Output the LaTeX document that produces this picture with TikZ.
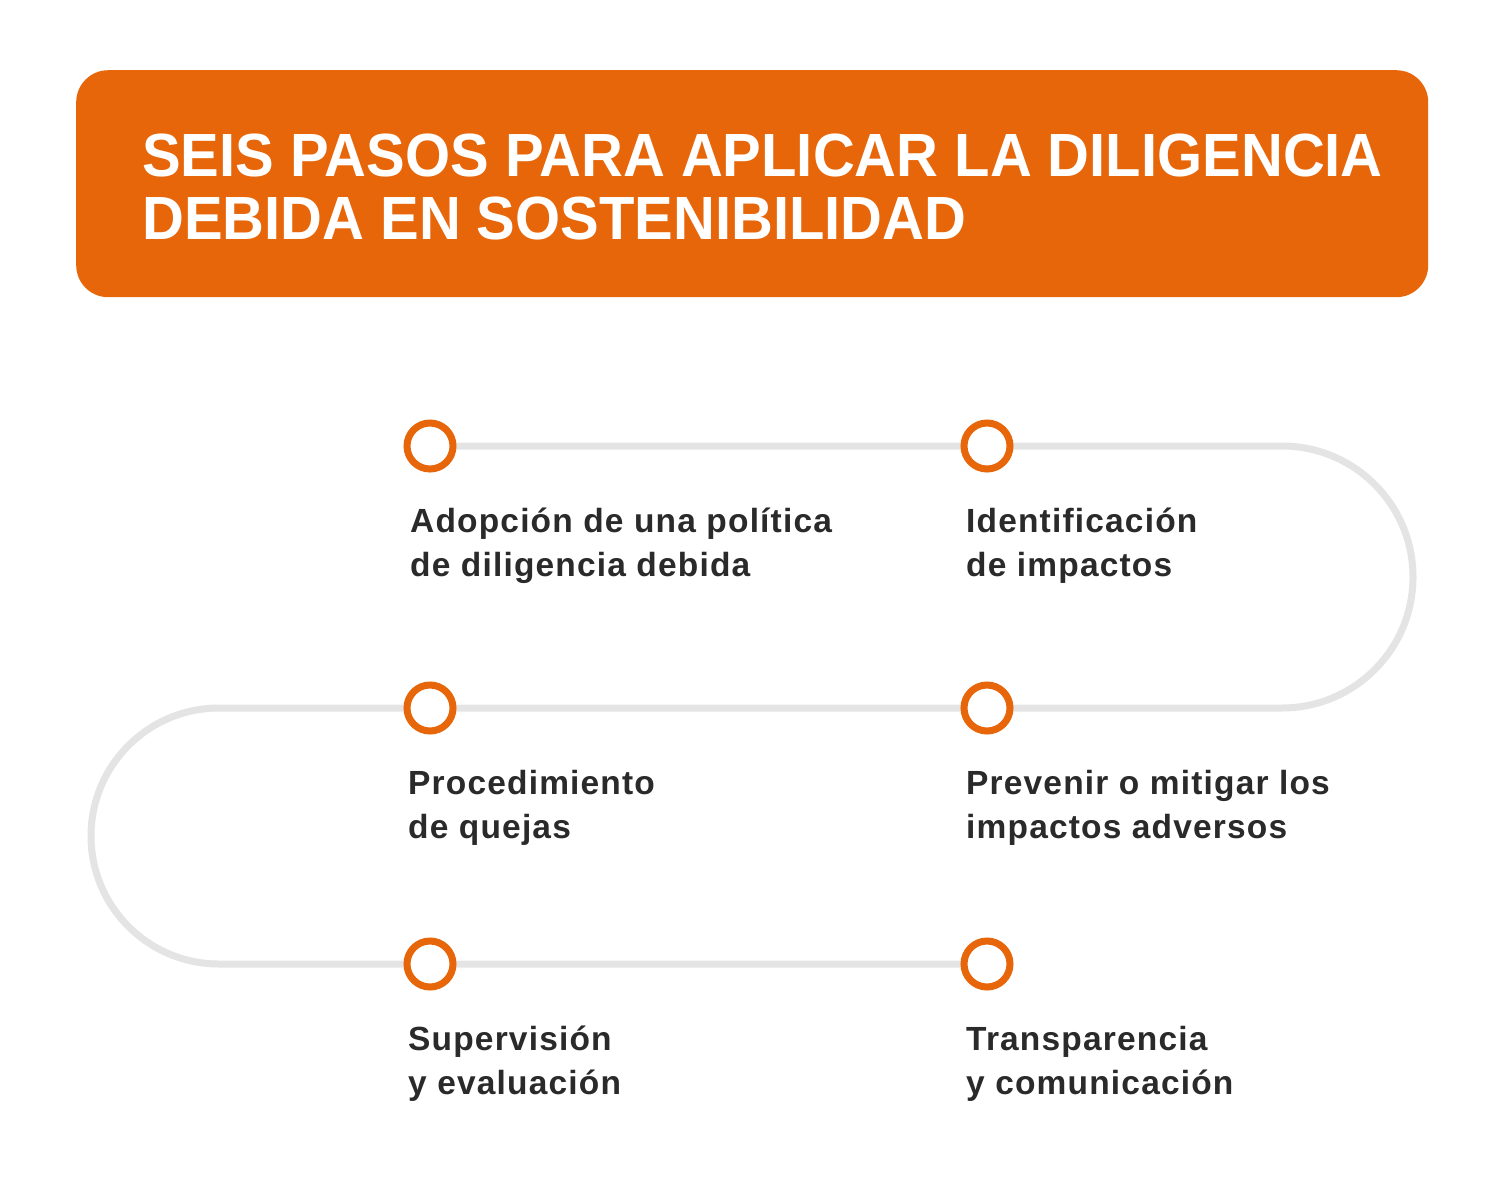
\documentclass[tikz,border=0pt]{standalone}
\usepackage{fontspec}
\setmainfont{Liberation Sans}
\newfontfamily\bodyfont[LetterSpace=3.5]{Liberation Sans}
\newfontfamily\titlefont[FakeStretch=0.95]{Liberation Sans}
\usetikzlibrary{backgrounds}
\definecolor{brandorange}{HTML}{E8660A}
\definecolor{pathgray}{HTML}{E4E4E4}
\definecolor{textdark}{HTML}{2A2A2A}
\tikzset{
  stepdot/.style={circle, draw=brandorange, line width=7pt, fill=white,
    minimum size=46pt, inner sep=0pt},
  steplabel/.style={anchor=base west, align=left, inner sep=0pt,
    text=textdark, font=\bodyfont\bfseries\fontsize{33.5}{44}\selectfont},
  titletext/.style={anchor=base west, align=left, inner sep=0pt,
    text=white, font=\titlefont\bfseries\fontsize{61}{63}\selectfont},
  trail/.style={draw=pathgray, line width=7pt}
}
\begin{document}
\begin{tikzpicture}[x=1pt,y=1pt]
\useasboundingbox (0,0) rectangle (1504,-1184);
% title banner
\node[fill=brandorange, rounded corners=32pt, minimum width=1352pt,
  minimum height=227pt, anchor=north west, inner sep=0pt] (banner) at (76,-70) {};
% (base anchor of a multi-line node is the baseline of its last line)
\node[titletext] (title) at (142,-239)
  {SEIS PASOS PARA APLICAR LA DILIGENCIA\\DEBIDA EN SOSTENIBILIDAD};
% step markers
\node[stepdot] (s1) at (430,-446) {};
\node[stepdot] (s2) at (987,-446) {};
\node[stepdot] (s3) at (987,-708) {};
\node[stepdot] (s4) at (430,-708) {};
\node[stepdot] (s5) at (430,-964) {};
\node[stepdot] (s6) at (987,-964) {};
\coordinate (rtop) at (1282,-446);
\coordinate (lbot) at (219,-708);
\begin{scope}[on background layer]
\fill[white] (0,0) rectangle (1504,-1184);
\draw[trail] (s1.center) -- (s2.center) -- (rtop)
  arc[start angle=90, end angle=-90, radius=131pt]
  -- (s3.center) -- (s4.center) -- (lbot)
  arc[start angle=90, end angle=270, radius=128pt]
  -- (s5.center) -- (s6.center);
\end{scope}
% labels
\node[steplabel] (l1) at (410,-576) {Adopción de una política\\de diligencia debida};
\node[steplabel] (l2) at (966,-576) {Identificación\\de impactos};
\node[steplabel] (l3) at (966,-838) {Prevenir o mitigar los\\impactos adversos};
\node[steplabel] (l4) at (408,-838) {Procedimiento\\de quejas};
\node[steplabel] (l5) at (408,-1094) {Supervisión\\y evaluación};
\node[steplabel] (l6) at (966,-1094) {Transparencia\\y comunicación};
\end{tikzpicture}
\end{document}
